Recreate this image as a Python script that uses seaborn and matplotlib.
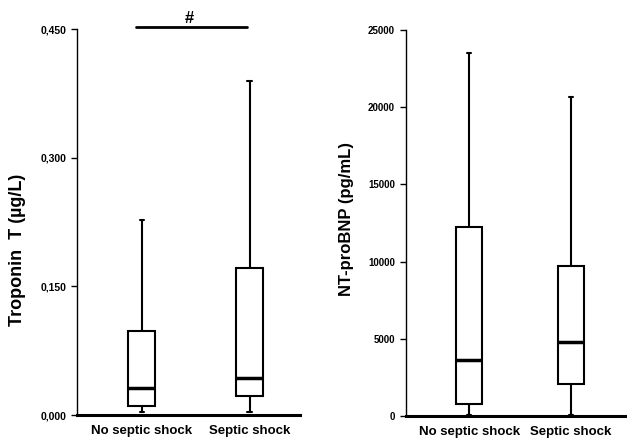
import pandas as pd
import matplotlib.pyplot as plt
import seaborn as sns

groups = ["No septic shock", "Septic shock"]

# five-number summaries
trop_min = [0.003, 0.0035]
trop_q1 = [0.0105, 0.022]
trop_med = [0.032, 0.0435]
trop_q3 = [0.098, 0.171]
trop_max = [0.227, 0.390]

bnp_min = [60, 70]
bnp_q1 = [780, 2050]
bnp_med = [3630, 4790]
bnp_q3 = [12260, 9720]
bnp_max = [23490, 20640]

trop_ticks = [0, 0.150, 0.300, 0.450]
trop_ticklabels = ["0,000", "0,150", "0,300", "0,450"]
bnp_ticks = [0, 5000, 10000, 15000, 20000, 25000]


def long_form(mins, q1s, meds, q3s, maxs):
    rows = []
    for i, g in enumerate(groups):
        for v in (mins[i], q1s[i], meds[i], q3s[i], maxs[i]):
            rows.append({"group": g, "value": v})
    return pd.DataFrame(rows)


df_trop = long_form(trop_min, trop_q1, trop_med, trop_q3, trop_max)
df_bnp = long_form(bnp_min, bnp_q1, bnp_med, bnp_q3, bnp_max)

sns.set_style("white")
plt.rcParams['font.family'] = ['Liberation Sans', 'DejaVu Sans']
plt.rcParams['text.color'] = 'black'
plt.rcParams['axes.labelcolor'] = 'black'
plt.rcParams['xtick.color'] = 'black'
plt.rcParams['ytick.color'] = 'black'

fig = plt.figure(figsize=(6.27, 4.42), dpi=100)
ax1 = fig.add_axes([0.123, 0.061, 0.355, 0.873])
ax2 = fig.add_axes([0.6475, 0.059, 0.3525, 0.873])

box_kws = dict(whis=(0, 100), width=0.25, color="white", linecolor="black",
               linewidth=1.5, capwidths=0.04, medianprops=dict(linewidth=2.5))

sns.boxplot(data=df_trop, x="group", y="value", ax=ax1, **box_kws)
sns.boxplot(data=df_bnp, x="group", y="value", ax=ax2, **box_kws)

for ax in (ax1, ax2):
    sns.despine(ax=ax)
    ax.spines['left'].set_linewidth(1.0)
    ax.spines['bottom'].set_linewidth(2.2)
    ax.spines['left'].set_color("black")
    ax.spines['bottom'].set_color("black")
    ax.set_xlabel("")
    ax.tick_params(axis='y', which='major', left=True, length=4, width=1, pad=4)
    ax.tick_params(axis='x', length=0, pad=7)
    for lab in ax.get_xticklabels():
        lab.set_fontweight("bold")
        lab.set_fontsize(9.5)

ax1.set_xlim(-0.60, 1.465)
ax1.set_ylim(0, 0.45)
ax1.set_yticks(trop_ticks)
ax1.set_yticklabels(trop_ticklabels, fontweight="bold", fontsize=7.5)
ax1.set_ylabel("Troponin  T (\u00b5g/L)", fontsize=13, fontweight="bold")
ax1.yaxis.set_label_coords(-0.23, 0.427)

ax2.set_xlim(-0.62, 1.55)
ax2.set_ylim(0, 25000)
ax2.set_yticks(bnp_ticks)
ax2.set_yticklabels([str(t) for t in bnp_ticks], fontweight="bold", fontsize=7)
ax2.set_ylabel("NT-proBNP (pg/mL)", fontsize=12, fontweight="bold")
ax2.yaxis.set_label_coords(-0.235, 0.51)

# significance bar
ax1.plot([-0.055, 0.98], [0.452, 0.452], color="black", linewidth=2, clip_on=False)
ax1.text(0.44, 0.463, "#", ha="center", va="center", fontsize=12, fontweight="bold")

fig.savefig("out.png", dpi=100)
